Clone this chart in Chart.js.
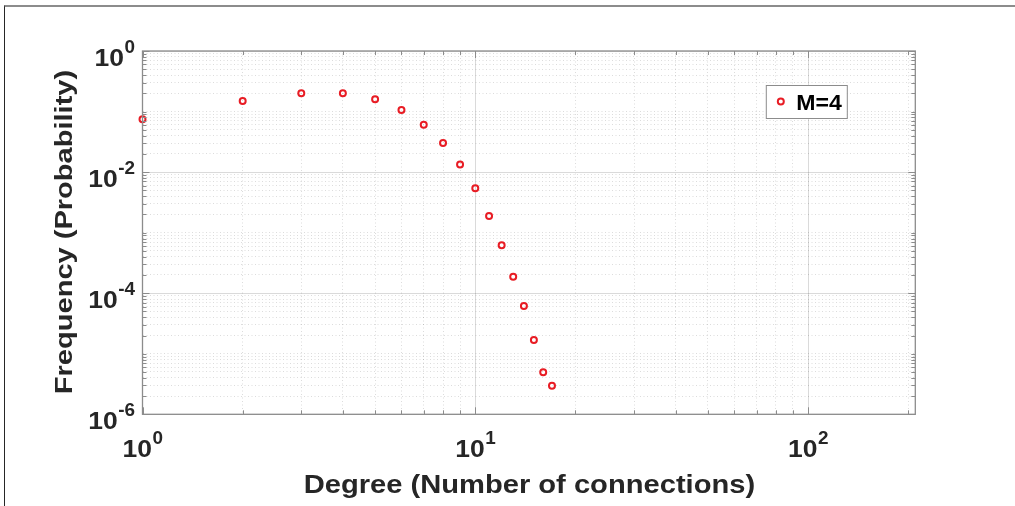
<!DOCTYPE html>
<html>
<head>
<meta charset="utf-8">
<title>Degree distribution</title>
<script src="https://cdn.jsdelivr.net/npm/chart.js@4.4.1/dist/chart.umd.min.js"></script>
<style>
  html, body { margin: 0; padding: 0; background: #fff; }
  #wrap { position: relative; width: 1015px; height: 506px; overflow: hidden; }
  #frame { position: absolute; left: 4px; top: 5px; right: -4px; bottom: -4px;
           border-top: 2px solid #8c8c8c; border-left: 1.5px solid #262626; pointer-events: none; }
</style>
</head>
<body>
<div id="wrap">
  <canvas id="degreeChart" width="1015" height="506"></canvas>
  <div id="frame"></div>
</div>
<script>
// degree distribution, M = 4
const degrees = [1, 2, 3, 4, 5, 6, 7, 8, 9, 10, 11, 12, 13, 14, 15, 16, 17];
const frequency = [0.0745, 0.149, 0.200, 0.200, 0.159, 0.106, 0.0607, 0.0303, 0.0133,
                   0.0054, 0.00188, 6.2e-4, 1.87e-4, 6.15e-5, 1.69e-5, 4.93e-6, 2.97e-6];
const seriesLabel = 'M=4';
const xLimits = [1, 210];
const yLimits = [1e-6, 1];
const xLabelPowers = [0, 1, 2];
const yLabelPowers = [0, -2, -4, -6];
const xTitle = 'Degree (Number of connections)';
const yTitle = 'Frequency (Probability)';

const INK = '#262626';
const BOX = '#8c8c8c';
const RED = 'rgb(232, 28, 36)';
const FONT = '"Liberation Sans", Arial, Helvetica, sans-serif';

// 1..9 x 10^n ticks between the limits
function logTicks(min, max) {
  const out = [];
  for (let p = Math.floor(Math.log10(min)); p <= Math.ceil(Math.log10(max)); p++) {
    for (let k = 1; k <= 9; k++) {
      const v = +(k * Math.pow(10, p)).toPrecision(6);
      if (v >= min * 0.9999 && v <= max * 1.0001) out.push(v);
    }
  }
  return out;
}

function isMajor(v, powers) {
  return powers.some(p => Math.abs(Math.log10(v) - p) < 1e-6);
}

const xMajors = xLabelPowers;
const yMajors = yLabelPowers;

function gridColor(powers) {
  return ctx => isMajor(ctx.tick.value, powers) ? 'rgba(38,38,38,0.17)' : 'rgba(38,38,38,0.16)';
}
function gridDash(powers) {
  return ctx => (ctx.tick && isMajor(ctx.tick.value, powers)) ? [] : [1, 2.5];
}

// "10" with a raised exponent, slightly widened like the original font
function drawPower(ctx, exp, x, baseline, align) {
  const sx = 1.08;
  const baseFont = 'bold 24.5px ' + FONT;
  const expFont = 'bold 17.5px ' + FONT;
  ctx.font = baseFont;
  const wb = ctx.measureText('10').width * sx;
  ctx.font = expFont;
  const we = ctx.measureText(String(exp)).width * sx;
  const left = align === 'center' ? x - (wb + we) / 2 : x - wb - we;
  ctx.textAlign = 'left';
  ctx.textBaseline = 'alphabetic';
  ctx.fillStyle = INK;
  ctx.font = baseFont;
  stretchedText(ctx, '10', left, baseline, sx, false);
  ctx.font = expFont;
  stretchedText(ctx, String(exp), left + wb + 0.5, baseline - 13, sx, false);
}

function stretchedText(ctx, text, x, y, sx, rotate) {
  ctx.save();
  ctx.translate(x, y);
  if (rotate) ctx.rotate(-Math.PI / 2);
  ctx.scale(sx, 1);
  ctx.fillText(text, 0, 0);
  ctx.restore();
}

const axesPlugin = {
  id: 'matlabAxes',
  afterDatasetsDraw(chart) {
    const { ctx, chartArea: a, scales: { x, y } } = chart;
    ctx.save();

    // inward tick marks on all four sides
    ctx.strokeStyle = BOX;
    ctx.lineWidth = 1;
    ctx.beginPath();
    x.ticks.forEach(t => {
      const px = Math.round(x.getPixelForValue(t.value)) + 0.5;
      const len = isMajor(t.value, xMajors) ? 7 : 4;
      ctx.moveTo(px, a.bottom); ctx.lineTo(px, a.bottom - len);
      ctx.moveTo(px, a.top); ctx.lineTo(px, a.top + len);
    });
    y.ticks.forEach(t => {
      const py = Math.round(y.getPixelForValue(t.value)) + 0.5;
      const len = isMajor(t.value, yMajors) ? 7 : 4;
      ctx.moveTo(a.left, py); ctx.lineTo(a.left + len, py);
      ctx.moveTo(a.right, py); ctx.lineTo(a.right - len, py);
    });
    ctx.stroke();

    // axes box
    ctx.lineWidth = 1.3;
    ctx.strokeRect(a.left, a.top, a.right - a.left, a.bottom - a.top);

    // power-of-ten tick labels
    xLabelPowers.forEach(p => {
      drawPower(ctx, p, x.getPixelForValue(Math.pow(10, p)), a.bottom + 42.5, 'center');
    });
    yLabelPowers.forEach(p => {
      drawPower(ctx, p, a.left - 8, y.getPixelForValue(Math.pow(10, p)) + 15, 'right');
    });

    // axis titles
    ctx.fillStyle = INK;
    ctx.textAlign = 'center';
    ctx.textBaseline = 'alphabetic';
    ctx.font = 'bold 25px ' + FONT;
    stretchedText(ctx, xTitle, (a.left + a.right) / 2 + 0.5, 492.5, 1.165, false);
    ctx.font = 'bold 24px ' + FONT;
    stretchedText(ctx, yTitle, 72, 232, 1.21, true);

    // legend
    const ds = chart.data.datasets[0];
    const lx = a.right - 149.5, ly = a.top + 34, lw = 81, lh = 33;
    ctx.fillStyle = '#fff';
    ctx.fillRect(lx, ly, lw, lh);
    ctx.strokeStyle = '#8c8c8c';
    ctx.lineWidth = 1;
    ctx.strokeRect(lx + 0.5, ly + 0.5, lw, lh);
    ctx.beginPath();
    ctx.arc(lx + 15, ly + 16.5, ds.pointRadius, 0, Math.PI * 2);
    ctx.strokeStyle = ds.borderColor;
    ctx.lineWidth = ds.borderWidth;
    ctx.stroke();
    ctx.fillStyle = '#000';
    ctx.textAlign = 'left';
    ctx.font = 'bold 22px ' + FONT;
    stretchedText(ctx, ds.label, lx + 30.5, ly + 25, 1.05, false);

    ctx.restore();
  }
};

const points = degrees.map((d, i) => ({ x: d, y: frequency[i] }));

new Chart(document.getElementById('degreeChart'), {
  type: 'scatter',
  data: {
    datasets: [{
      label: seriesLabel,
      data: points,
      showLine: false,
      clip: false,
      pointStyle: 'circle',
      pointRadius: 3,
      pointHoverRadius: 3,
      borderWidth: 2,
      borderColor: RED,
      backgroundColor: 'rgba(0,0,0,0)'
    }]
  },
  options: {
    responsive: false,
    animation: false,
    devicePixelRatio: 1,
    layout: { padding: { left: 142.5, top: 51, right: 1015 - 915.3, bottom: 506 - 414.3 } },
    plugins: { legend: { display: false }, tooltip: { enabled: false } },
    scales: {
      x: {
        type: 'logarithmic',
        min: xLimits[0],
        max: xLimits[1],
        afterBuildTicks: s => { s.ticks = logTicks(xLimits[0], xLimits[1]).map(v => ({ value: v })); },
        afterFit: s => { s.height = 0; },
        ticks: { display: false },
        title: { display: false },
        grid: { drawTicks: false, color: gridColor(xMajors), lineWidth: 1 },
        border: { display: false, dash: gridDash(xMajors) }
      },
      y: {
        type: 'logarithmic',
        min: yLimits[0],
        max: yLimits[1],
        afterBuildTicks: s => { s.ticks = logTicks(yLimits[0], yLimits[1]).map(v => ({ value: v })); },
        afterFit: s => { s.width = 0; },
        ticks: { display: false },
        title: { display: false },
        grid: { drawTicks: false, color: gridColor(yMajors), lineWidth: 1 },
        border: { display: false, dash: gridDash(yMajors) }
      }
    }
  },
  plugins: [axesPlugin]
});
</script>
</body>
</html>
